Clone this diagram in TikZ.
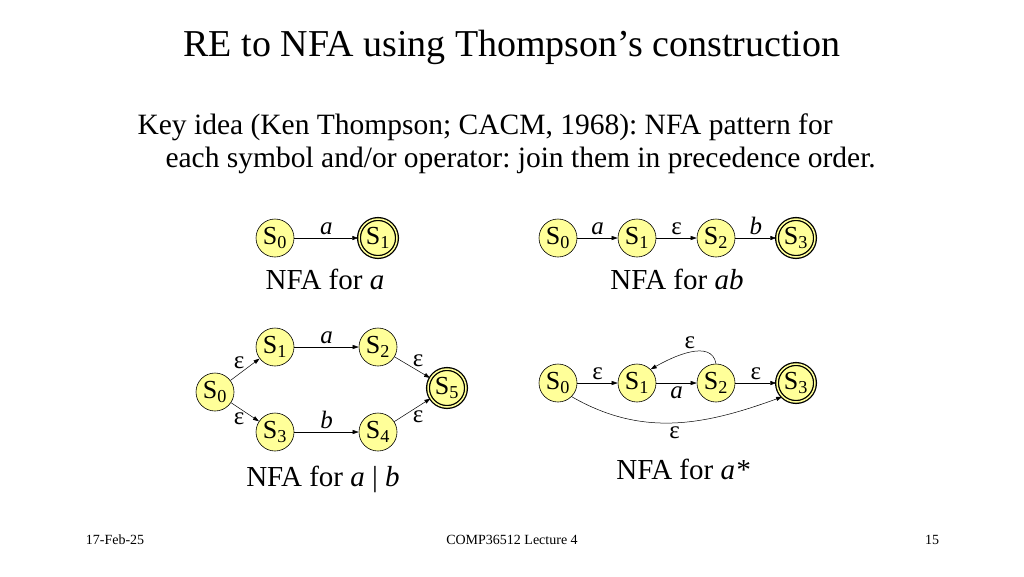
\documentclass[tikz,border=0pt]{standalone}
\usepackage{fontspec}
\setmainfont{Liberation Serif}
\usetikzlibrary{arrows.meta}
\definecolor{stfill}{RGB}{255,255,153}
\frenchspacing
\begin{document}
\begin{tikzpicture}[x=1pt,y=-1pt,
  st/.style={circle,draw=black,fill=stfill,line width=0.6pt,minimum size=38pt,inner sep=0pt,font=\fontsize{26}{28}\selectfont},
  acc/.style={st,double=stfill,double distance=1.5pt,line width=1.3pt},
  tr/.style={-{Triangle[length=6pt,width=4pt]},line width=0.5pt},
  lb/.style={font=\fontsize{25}{28}\selectfont},
  captxt/.style={font=\fontsize{29}{32}\selectfont}]
\useasboundingbox (0,0) rectangle (1024,576);
\node[font=\fontsize{38}{44}\selectfont] (title) at (512,47) {RE to NFA using Thompson’s construction};
\node[anchor=west,font=\fontsize{29.5}{34}\selectfont] (k1) at (134,127) {Key idea (Ken Thompson; CACM, 1968): NFA pattern for};
\node[anchor=west,font=\fontsize{29.5}{34}\selectfont] (k2) at (162,160) {each symbol and/or operator: join them in precedence order.};
% NFA for a
\node[st] (a0) at (275,238) {S\textsubscript{0}};
\node[acc] (a1) at (378,238) {S\textsubscript{1}};
\draw[tr] (a0) -- node[lb,above]{\textit{a}} (a1);
\node[captxt] (ca) at (325,279) {NFA for \textit{a}};
% NFA for ab
\node[st] (b0) at (558,238) {S\textsubscript{0}};
\node[st] (b1) at (637,238) {S\textsubscript{1}};
\node[st] (b2) at (716,238) {S\textsubscript{2}};
\node[acc] (b3) at (796,238) {S\textsubscript{3}};
\draw[tr] (b0) -- node[lb,above]{\textit{a}} (b1);
\draw[tr] (b1) -- node[lb,above]{ε} (b2);
\draw[tr] (b2) -- node[lb,above]{\textit{b}} (b3);
\node[captxt] (cb) at (677,279) {NFA for \textit{ab}};
% NFA for a|b
\node[st] (c0) at (215,392) {S\textsubscript{0}};
\node[st] (c1) at (275,347) {S\textsubscript{1}};
\node[st] (c2) at (378,347) {S\textsubscript{2}};
\node[st] (c3) at (275,432) {S\textsubscript{3}};
\node[st] (c4) at (378,432) {S\textsubscript{4}};
\node[acc] (c5) at (447,388) {S\textsubscript{5}};
\draw[tr] (c0) -- node[lb,above left=-3pt]{ε} (c1);
\draw[tr] (c0) -- node[lb,below left=-3pt]{ε} (c3);
\draw[tr] (c1) -- node[lb,above]{\textit{a}} (c2);
\draw[tr] (c3) -- node[lb,above]{\textit{b}} (c4);
\draw[tr] (c2) -- node[lb,above right=-3pt]{ε} (c5);
\draw[tr] (c4) -- node[lb,below right=-3pt]{ε} (c5);
\node[captxt] (cc) at (323,479) {NFA for \textit{a} | \textit{b}};
% NFA for a*
\node[st] (d0) at (558,383) {S\textsubscript{0}};
\node[st] (d1) at (637,383) {S\textsubscript{1}};
\node[st] (d2) at (716,383) {S\textsubscript{2}};
\node[acc] (d3) at (796,383) {S\textsubscript{3}};
\draw[tr] (d0) -- node[lb,above]{ε} (d1);
\draw[tr] (d1) -- node[lb,below]{\textit{a}} (d2);
\draw[tr] (d2) -- node[lb,above]{ε} (d3);
\draw[tr] (d2.north) to[out=100,in=30] node[lb,above]{ε} (d1.north east);
\draw[tr] (d0.south east) to[out=-30,in=-160] node[lb,below]{ε} (d3.south west);
\node[captxt] (cd) at (683,469) {NFA for \textit{a*}};
% footer
\node[font=\fontsize{14}{16}\selectfont] (f1) at (115,540) {17-Feb-25};
\node[font=\fontsize{14}{16}\selectfont] (f2) at (512,540) {COMP36512 Lecture 4};
\node[font=\fontsize{14}{16}\selectfont] (f3) at (932,540) {15};
\end{tikzpicture}
\end{document}
